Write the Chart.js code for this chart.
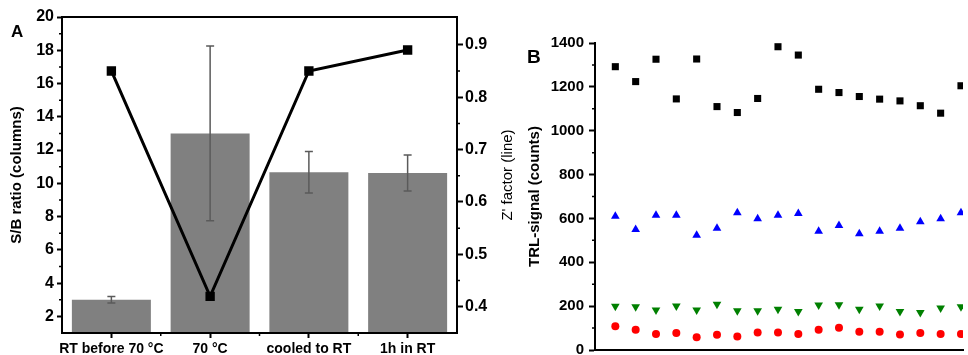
<!DOCTYPE html>
<html>
<head>
<meta charset="utf-8">
<script src="https://cdn.jsdelivr.net/npm/chart.js@4.4.1/dist/chart.umd.min.js"></script>
<style>
  body { margin: 0; background: #fff; overflow: hidden; width: 968px; height: 355px; }
  canvas { position: absolute; top: 0; }
  #chartA { left: 0; }
  #chartB { left: 520px; }
</style>
</head>
<body>
<canvas id="chartA" width="520" height="355"></canvas>
<canvas id="chartB" width="448" height="355"></canvas>
<script>
// panel A: S/B ratio columns + Z' factor line
const conditions = ['RT before 70 °C', '70 °C', 'cooled to RT', '1h in RT'];
const sbRatio = [3.0, 13.0, 10.67, 10.62];
const sbError = [0.2, 5.25, 1.25, 1.08];
const zFactor = [0.85, 0.42, 0.85, 0.89];
const sbTicks = [2, 4, 6, 8, 10, 12, 14, 16, 18, 20];
const sbMinor = [3, 5, 7, 9, 11, 13, 15, 17, 19];
const zTicks = [0.4, 0.5, 0.6, 0.7, 0.8, 0.9];
const zMinor = [0.45, 0.55, 0.65, 0.75, 0.85];

// panel B: TRL signal per well
const wells = [1, 2, 3, 4, 5, 6, 7, 8, 9, 10, 11, 12, 13, 14, 15, 16, 17, 18];
const blackSquares = [1292, 1224, 1326, 1145, 1327, 1110, 1083, 1147, 1383, 1345, 1189, 1174, 1156, 1144, 1136, 1114, 1080, 1205];
const blueTriangles = [610, 550, 614, 614, 523, 555, 626, 599, 614, 623, 542, 568, 530, 542, 555, 585, 599, 626];
const greenTriangles = [199, 197, 182, 201, 182, 209, 179, 179, 186, 176, 205, 206, 186, 201, 176, 171, 191, 197];
const redCircles = [108, 92, 73, 77, 58, 70, 62, 80, 80, 73, 92, 101, 83, 83, 71, 77, 73, 73];
const trlTicks = [0, 200, 400, 600, 800, 1000, 1200, 1400];
const trlMinor = [100, 300, 500, 700, 900, 1100, 1300];

Chart.defaults.font.family = "'Liberation Sans', Arial, sans-serif";
Chart.defaults.font.weight = 'bold';
Chart.defaults.color = '#000';

// short minor ticks, drawn outward like the major ones
const minorTicks = {
  id: 'minorTicks',
  afterDraw(chart, args, opts) {
    const ctx = chart.ctx;
    ctx.save();
    ctx.strokeStyle = '#000';
    ctx.lineWidth = 1.5;
    ctx.beginPath();
    (opts.list || []).forEach(m => {
      const s = chart.scales[m.axis];
      m.values.forEach(v => {
        const p = s.getPixelForValue(v);
        if (s.position === 'left') { ctx.moveTo(s.right, p); ctx.lineTo(s.right - m.len, p); }
        else if (s.position === 'right') { ctx.moveTo(s.left, p); ctx.lineTo(s.left + m.len, p); }
        else { ctx.moveTo(p, s.top); ctx.lineTo(p, s.top + m.len); }
      });
    });
    ctx.stroke();
    ctx.restore();
  }
};

const errorBars = {
  id: 'errorBars',
  afterDatasetDraw(chart, args, opts) {
    if (!opts.errors || args.index !== 0) return;
    const ctx = chart.ctx;
    const ys = chart.scales.y;
    const values = chart.data.datasets[0].data;
    ctx.save();
    ctx.strokeStyle = '#5a5a5a';
    ctx.lineWidth = 1.5;
    args.meta.data.forEach((bar, i) => {
      const top = ys.getPixelForValue(values[i] + opts.errors[i]);
      const bot = ys.getPixelForValue(values[i] - opts.errors[i]);
      ctx.beginPath();
      ctx.moveTo(bar.x, top); ctx.lineTo(bar.x, bot);
      ctx.moveTo(bar.x - 4, top); ctx.lineTo(bar.x + 4, top);
      ctx.moveTo(bar.x - 4, bot); ctx.lineTo(bar.x + 4, bot);
      ctx.stroke();
    });
    ctx.restore();
  }
};

// frame lines and free texts (panel letters, right-hand title)
const frameText = {
  id: 'frameText',
  afterDraw(chart, args, opts) {
    const ctx = chart.ctx;
    const a = chart.chartArea;
    ctx.save();
    ctx.strokeStyle = '#000';
    ctx.lineWidth = 2;
    ctx.beginPath();
    if (opts.box) {
      ctx.rect(a.left, a.top, a.right - a.left, a.bottom - a.top);
    } else {
      ctx.moveTo(a.left, a.top); ctx.lineTo(a.left, a.bottom); ctx.lineTo(a.right, a.bottom);
    }
    ctx.stroke();
    ctx.fillStyle = '#000';
    (opts.texts || []).forEach(t => {
      ctx.save();
      ctx.font = t.font;
      ctx.translate(t.x, t.y);
      if (t.rotate) ctx.rotate(t.rotate);
      ctx.textAlign = t.align || 'left';
      ctx.textBaseline = t.baseline || 'alphabetic';
      ctx.fillText(t.text, 0, 0);
      ctx.restore();
    });
    ctx.restore();
  }
};

const tickGrid = { display: true, drawOnChartArea: false, tickLength: 5, tickWidth: 2, tickColor: '#000' };
const axisBorder = { display: true, color: '#000', width: 2 };

new Chart(document.getElementById('chartA'), {
  type: 'bar',
  data: {
    labels: conditions,
    datasets: [{
      label: 'S/B ratio',
      data: sbRatio,
      backgroundColor: '#808080',
      borderWidth: 0,
      categoryPercentage: 0.8,
      barPercentage: 1,
      yAxisID: 'y',
      order: 2
    }, {
      type: 'line',
      label: "Z' factor",
      data: zFactor,
      borderColor: '#000',
      backgroundColor: '#000',
      borderWidth: 3,
      pointStyle: 'rect',
      pointRadius: 4.5,
      yAxisID: 'y1',
      order: 1
    }]
  },
  options: {
    responsive: false,
    animation: false,
    layout: { padding: { top: 17, left: 0, right: 0, bottom: 0 } },
    plugins: {
      legend: { display: false },
      tooltip: { enabled: false },
      errorBars: { errors: sbError },
      minorTicks: { list: [
        { axis: 'y', values: sbMinor, len: 3 },
        { axis: 'y1', values: zMinor, len: 3 },
        { axis: 'x', values: [0.5, 1.5, 2.5], len: 3 }
      ] },
      frameText: { box: true, texts: [
        { text: 'A', x: 11, y: 37, font: "bold 17px 'Liberation Sans', Arial, sans-serif" },
        { text: "Z' factor (line)", x: 508, y: 175, rotate: -Math.PI / 2, align: 'center', baseline: 'middle',
          font: "15px 'Liberation Sans', Arial, sans-serif" }
      ] }
    },
    scales: {
      x: {
        offset: true,
        grid: Object.assign({}, tickGrid, { offset: false }),
        border: axisBorder,
        ticks: { font: { size: 14, weight: 'bold' }, padding: 3, maxRotation: 0, autoSkip: false },
        afterFit: s => { s.height = 22; }
      },
      y: {
        position: 'left',
        min: 1,
        max: 20,
        afterBuildTicks: s => { s.ticks = sbTicks.map(v => ({ value: v })); },
        grid: tickGrid,
        border: axisBorder,
        ticks: { font: { size: 16, weight: 'bold' }, padding: 3 },
        title: { display: true, text: 'S/B ratio (columns)', font: { size: 15, weight: 'bold' }, padding: { top: 8, bottom: 0 } },
        afterFit: s => { s.width = 62; }
      },
      y1: {
        position: 'right',
        min: 0.35,
        max: 0.953,
        afterBuildTicks: s => { s.ticks = zTicks.map(v => ({ value: v })); },
        grid: Object.assign({}, tickGrid, { tickLength: 6 }),
        border: axisBorder,
        ticks: { font: { size: 16, weight: 'bold' }, padding: 2, callback: v => v.toFixed(1) },
        afterFit: s => { s.width = 63; }
      }
    }
  },
  plugins: [errorBars, minorTicks, frameText]
});

const pts = arr => wells.map((w, i) => ({ x: w, y: arr[i] }));

new Chart(document.getElementById('chartB'), {
  type: 'scatter',
  data: {
    datasets: [
      { label: 'squares', data: pts(blackSquares), pointStyle: 'rect', pointRadius: 5, backgroundColor: '#000', borderWidth: 0 },
      { label: 'up', data: pts(blueTriangles), pointStyle: 'triangle', pointRadius: 5, backgroundColor: '#0000ff', borderWidth: 0 },
      { label: 'down', data: pts(greenTriangles), pointStyle: 'triangle', pointRotation: 180, pointRadius: 5, backgroundColor: '#008000', borderWidth: 0 },
      { label: 'circles', data: pts(redCircles), pointStyle: 'circle', pointRadius: 4, backgroundColor: '#ff0000', borderWidth: 0 }
    ]
  },
  options: {
    responsive: false,
    animation: false,
    layout: { padding: { top: 43, left: 0, right: 0, bottom: 0 } },
    plugins: {
      legend: { display: false },
      tooltip: { enabled: false },
      minorTicks: { list: [{ axis: 'y', values: trlMinor, len: 3 }] },
      frameText: { box: false, texts: [
        { text: 'B', x: 7, y: 63, font: "bold 19px 'Liberation Sans', Arial, sans-serif" }
      ] }
    },
    scales: {
      x: {
        type: 'linear',
        min: 0,
        max: 18.1,
        grid: { display: false },
        border: axisBorder,
        ticks: { display: false },
        afterFit: s => { s.height = 4; }
      },
      y: {
        min: 0,
        max: 1400,
        afterBuildTicks: s => { s.ticks = trlTicks.map(v => ({ value: v })); },
        grid: Object.assign({}, tickGrid, { tickLength: 6 }),
        border: axisBorder,
        ticks: { font: { size: 15, weight: 'bold' }, padding: 5, callback: v => String(v) },
        title: { display: true, text: 'TRL-signal (counts)', font: { size: 15, weight: 'bold' }, padding: { top: 6, bottom: 0 } },
        afterFit: s => { s.width = 75; s.paddingTop = 0; s.paddingBottom = 0; }
      }
    }
  },
  plugins: [minorTicks, frameText]
});
</script>
</body>
</html>
